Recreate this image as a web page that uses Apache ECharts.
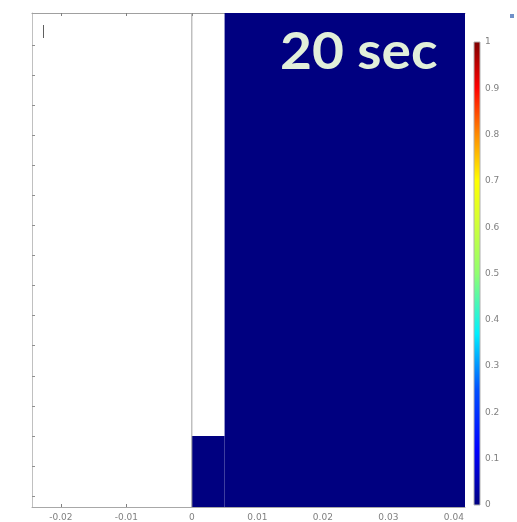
<!DOCTYPE html>
<html>
<head>
<meta charset="utf-8">
<script src="https://cdn.jsdelivr.net/npm/echarts@6/dist/echarts.min.js"></script>
<style>
  html, body { margin: 0; padding: 0; background: #fff; }
  #chart { width: 517px; height: 522px; }
</style>
</head>
<body>
<div id="chart"></div>
<script>
// Domain extents (m)
const xExtent = [-0.0244, 0.0417];
const yExtent = [-0.0018, 0.0803];

// Axis tick positions
const xTicks = [-0.02, -0.01, 0, 0.01, 0.02, 0.03, 0.04];
const yTicks = [0, 0.005, 0.01, 0.015, 0.02, 0.025, 0.03, 0.035, 0.04,
                0.045, 0.05, 0.055, 0.06, 0.065, 0.07, 0.075];
const colorTicks = [0, 0.1, 0.2, 0.3, 0.4, 0.5, 0.6, 0.7, 0.8, 0.9, 1];

// Filled cells of the volume-fraction field: [x0, x1, y0, y1, alpha]
const cellX0 = [0, 0.005];
const cellX1 = [0.005, 0.0417];
const cellY0 = [-0.0018, -0.0018];
const cellY1 = [0.01, 0.0803];
const cellAlpha = [0, 0];

// Inlet wall at x = 0
const wallX = [0, 0];
const wallY = [-0.0018, 0.0803];

// Rainbow colour table for alpha in [0, 1]
const rainbowStops = [0, 0.12, 0.25, 0.37, 0.5, 0.62, 0.7, 0.8, 0.9, 1];
const rainbowColors = ['#000080', '#0000ff', '#0050ff', '#00f0ff', '#90ff70',
                       '#d8ff30', '#ffff00', '#ff8a00', '#ff0000', '#7f0000'];

const timeLabel = '20 sec';

const cells = cellX0.map((x0, i) => [x0, cellX1[i], cellY0[i], cellY1[i], cellAlpha[i]]);
const wall = wallX.map((x, i) => [x, wallY[i]]);

const chart = echarts.init(document.getElementById('chart'), null, { renderer: 'canvas' });

const tickLabelStyle = { fontFamily: 'DejaVu Sans', fontSize: 9, color: '#808080' };

chart.setOption({
  animation: false,
  backgroundColor: '#ffffff',
  grid: [
    { left: 32, right: 52, top: 13, bottom: 15 },
    { left: 474, width: 6, top: 42, bottom: 17 }
  ],
  xAxis: [
    {
      gridIndex: 0, type: 'value', min: xExtent[0], max: xExtent[1],
      axisLine: { onZero: false, lineStyle: { color: '#a8a8a8', width: 1 } },
      axisTick: { inside: true, length: 3, customValues: xTicks, lineStyle: { color: '#808080' } },
      axisLabel: { customValues: xTicks, margin: 6, ...tickLabelStyle },
      splitLine: { show: false }
    },
    {
      gridIndex: 0, type: 'value', position: 'top', min: xExtent[0], max: xExtent[1],
      axisLine: { onZero: false, lineStyle: { color: '#a0a0a0', width: 1 } },
      axisTick: { inside: true, length: 3, customValues: xTicks, lineStyle: { color: '#808080' } },
      axisLabel: { show: false },
      splitLine: { show: false }
    },
    {
      gridIndex: 1, type: 'value', min: 0, max: 1, show: false
    }
  ],
  yAxis: [
    {
      gridIndex: 0, type: 'value', position: 'left', min: yExtent[0], max: yExtent[1],
      axisLine: { show: true, onZero: false, lineStyle: { color: '#c0c0c0', width: 1 } },
      axisTick: { show: true, inside: true, length: 3, customValues: yTicks, lineStyle: { color: '#909090' } },
      axisLabel: { show: false },
      splitLine: { show: false }
    },
    {
      gridIndex: 1, type: 'value', position: 'right', min: 0, max: 1, interval: 0.1,
      axisLine: { show: false },
      axisTick: { show: false },
      axisLabel: { margin: 5, ...tickLabelStyle, formatter: v => String(Math.round(v * 10) / 10) },
      splitLine: { show: false }
    }
  ],
  visualMap: {
    show: false,
    type: 'continuous',
    min: 0, max: 1,
    dimension: 4,
    seriesIndex: 0,
    inRange: { color: rainbowColors }
  },
  series: [
    {
      name: 'alpha',
      type: 'custom',
      xAxisIndex: 0, yAxisIndex: 0,
      data: cells,
      encode: { x: [0, 1], y: [2, 3] },
      clip: true,
      renderItem: (params, api) => {
        const p0 = api.coord([api.value(0), api.value(3)]);
        const p1 = api.coord([api.value(1), api.value(2)]);
        return {
          type: 'rect',
          shape: { x: p0[0], y: p0[1], width: p1[0] - p0[0], height: p1[1] - p0[1] },
          style: { fill: api.visual('color') }
        };
      }
    },
    {
      name: 'wall',
      type: 'line',
      xAxisIndex: 0, yAxisIndex: 0,
      data: wall,
      symbol: 'none',
      lineStyle: { color: '#a0a0a0', width: 1 },
      z: 3
    },
    {
      name: 'colorbar',
      type: 'custom',
      xAxisIndex: 2, yAxisIndex: 1,
      data: [[0, 1, 0, 1]],
      renderItem: (params, api) => {
        const p0 = api.coord([0, 1]);
        const p1 = api.coord([1, 0]);
        const colorStops = rainbowStops.map((s, i) => ({ offset: 1 - s, color: rainbowColors[i] }));
        return {
          type: 'rect',
          shape: { x: p0[0], y: p0[1], width: p1[0] - p0[0], height: p1[1] - p0[1] },
          style: {
            fill: new echarts.graphic.LinearGradient(0, 0, 0, 1, colorStops),
            stroke: '#b0b0b0', lineWidth: 1
          }
        };
      }
    }
  ],
  graphic: [
    {
      type: 'text', x: 280, y: 27, scaleX: 1.08, z: 10,
      style: {
        text: timeLabel,
        fontFamily: 'Lato', fontWeight: 'bold', fontSize: 51,
        fill: '#e2efda'
      }
    },
    {
      type: 'line', z: 10,
      shape: { x1: 43.5, y1: 25, x2: 43.5, y2: 38 },
      style: { stroke: '#606060', lineWidth: 1 }
    },
    {
      type: 'rect', z: 10,
      shape: { x: 510, y: 14, width: 4, height: 4 },
      style: { fill: '#7090c8' }
    }
  ]
});
</script>
</body>
</html>
